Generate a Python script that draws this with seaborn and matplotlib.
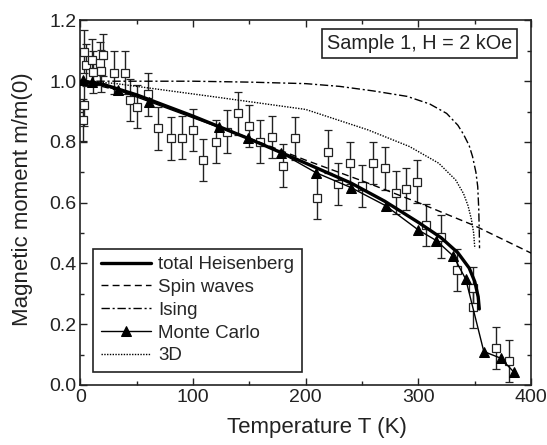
import numpy as np
import pandas as pd
import matplotlib
matplotlib.use("Agg")
import matplotlib.pyplot as plt
import seaborn as sns

# Experimental data (open squares with error bars)
exp_T = [2, 3, 3, 5, 10, 11, 17, 18, 20, 30, 40, 44, 50, 60, 69, 80, 90, 100, 109,
         120, 130, 140, 150, 159, 170, 180, 190, 210, 220, 229, 239, 250, 260, 270,
         280, 289, 299, 307, 320, 334, 348, 348, 369, 380]
exp_m = [0.872, 0.922, 1.097, 1.053, 1.07, 1.031, 1.059, 1.034, 1.086, 1.028, 1.028,
         0.938, 0.916, 0.957, 0.845, 0.812, 0.814, 0.84, 0.741, 0.801, 0.834, 0.894,
         0.853, 0.801, 0.817, 0.722, 0.812, 0.615, 0.768, 0.662, 0.731, 0.655, 0.730,
         0.713, 0.633, 0.645, 0.669, 0.527, 0.488, 0.379, 0.318, 0.258, 0.121, 0.079]
exp_err = [0.07] * len(exp_T)

# total Heisenberg
heis_T = [0, 20, 50, 100, 150, 200, 240, 270, 300, 320, 335, 345, 350, 353, 354]
heis_m = [1.0, 0.99, 0.955, 0.885, 0.81, 0.73, 0.665, 0.605, 0.535, 0.485, 0.435,
          0.385, 0.34, 0.29, 0.25]

# Spin waves
sw_T = [0, 50, 100, 150, 200, 250, 300, 350, 400]
sw_m = [1.0, 0.955, 0.885, 0.812, 0.74, 0.672, 0.6, 0.524, 0.434]

# Ising
ising_T = [0, 100, 150, 200, 230, 260, 290, 310, 325, 335, 340, 345, 348, 351,
           352.6, 353.5, 354, 354.2]
ising_m = [1.0, 1.0, 0.997, 0.992, 0.983, 0.968, 0.95, 0.925, 0.894, 0.855, 0.825,
           0.788, 0.752, 0.7, 0.653, 0.58, 0.5, 0.45]

# Monte Carlo
mc_T = [2, 10, 33, 61, 123, 149, 178, 209, 240, 271, 300, 316, 331, 342, 358, 373, 385]
mc_m = [1.004, 0.998, 0.971, 0.933, 0.848, 0.812, 0.764, 0.699, 0.65, 0.59, 0.51,
        0.475, 0.424, 0.348, 0.11, 0.088, 0.041]

# 3D
d3_T = [0, 30, 60, 120, 200, 255, 292, 318, 333, 340, 344, 347, 349, 350]
d3_m = [1.0, 0.993, 0.978, 0.948, 0.907, 0.84, 0.785, 0.73, 0.675, 0.63, 0.59,
        0.545, 0.5, 0.45]

sns.set_style("ticks")
plt.rcParams['font.family'] = ['Liberation Sans', 'DejaVu Sans']

INK = '#222222'
fig = plt.figure(figsize=(5.47, 4.45), dpi=100)
ax = fig.add_axes([0.147, 0.135, 0.824, 0.819])

ax.errorbar(exp_T, exp_m, yerr=exp_err, fmt='s', mfc='white', mec=INK,
            ms=5.5, mew=0.9, ecolor=INK, elinewidth=1.0, capsize=3, capthick=1.0,
            zorder=2)

def frame(T, m):
    return pd.DataFrame({"T": T, "m": m})

sns.lineplot(data=frame(heis_T, heis_m), x="T", y="m", sort=False, estimator=None,
             color='black', lw=2.4, ax=ax, label='total Heisenberg', zorder=4)
sns.lineplot(data=frame(sw_T, sw_m), x="T", y="m", sort=False, estimator=None,
             color='black', lw=1.0, ls=(0, (5, 3)), ax=ax, label='Spin waves', zorder=3)
sns.lineplot(data=frame(ising_T, ising_m), x="T", y="m", sort=False, estimator=None,
             color='black', lw=1.0, ls=(0, (6, 2, 1.5, 2)), ax=ax, label='Ising', zorder=3)
sns.lineplot(data=frame(mc_T, mc_m), x="T", y="m", sort=False, estimator=None,
             color='black', lw=1.0, marker='^', markersize=6.5, mec='black', ax=ax,
             label='Monte Carlo', zorder=3)
sns.lineplot(data=frame(d3_T, d3_m), x="T", y="m", sort=False, estimator=None,
             color='black', lw=1.0, ls=(0, (1, 1)), ax=ax, label='3D', zorder=3)

ax.set_xlim(0, 400)
ax.set_ylim(0, 1.2)
ax.set_xticks([0, 100, 200, 300, 400])
ax.set_xticks([50, 150, 250, 350], minor=True)
ax.set_yticks([0.0, 0.2, 0.4, 0.6, 0.8, 1.0, 1.2])
ax.set_yticks([0.1, 0.3, 0.5, 0.7, 0.9, 1.1], minor=True)
ax.set_yticklabels([f"{v:.1f}" for v in [0.0, 0.2, 0.4, 0.6, 0.8, 1.0, 1.2]])
ax.tick_params(which='both', direction='in', top=True, right=True, width=1.0,
               labelsize=14, colors=INK, pad=3)
ax.tick_params(which='major', length=5)
ax.tick_params(which='minor', length=3)
for s in ax.spines.values():
    s.set_linewidth(1.2)
    s.set_color(INK)

ax.set_xlabel("Temperature T (K)", fontsize=16, color=INK)
ax.set_ylabel("Magnetic moment m/m(0)", fontsize=16, color=INK)
ax.xaxis.set_label_coords(0.5 + 11 / 450.5, -0.088)
ax.yaxis.set_label_coords(-0.105, 0.51)

leg = ax.legend(loc='lower left', bbox_to_anchor=(0.028, 0.036), borderaxespad=0,
                fontsize=13.5, frameon=True, fancybox=False, edgecolor=INK,
                handlelength=2.7, handletextpad=0.37, labelspacing=0.3,
                borderpad=0.4)
leg.get_frame().set_linewidth(1.2)
leg.get_frame().set_alpha(1)

ax.text(0.958, 0.962, "Sample 1, H = 2 kOe", transform=ax.transAxes, ha='right',
        va='top', fontsize=14.3, color=INK,
        bbox=dict(boxstyle='square,pad=0.25', fc='white', ec=INK, lw=1.2))

fig.savefig("out.png", dpi=100)
